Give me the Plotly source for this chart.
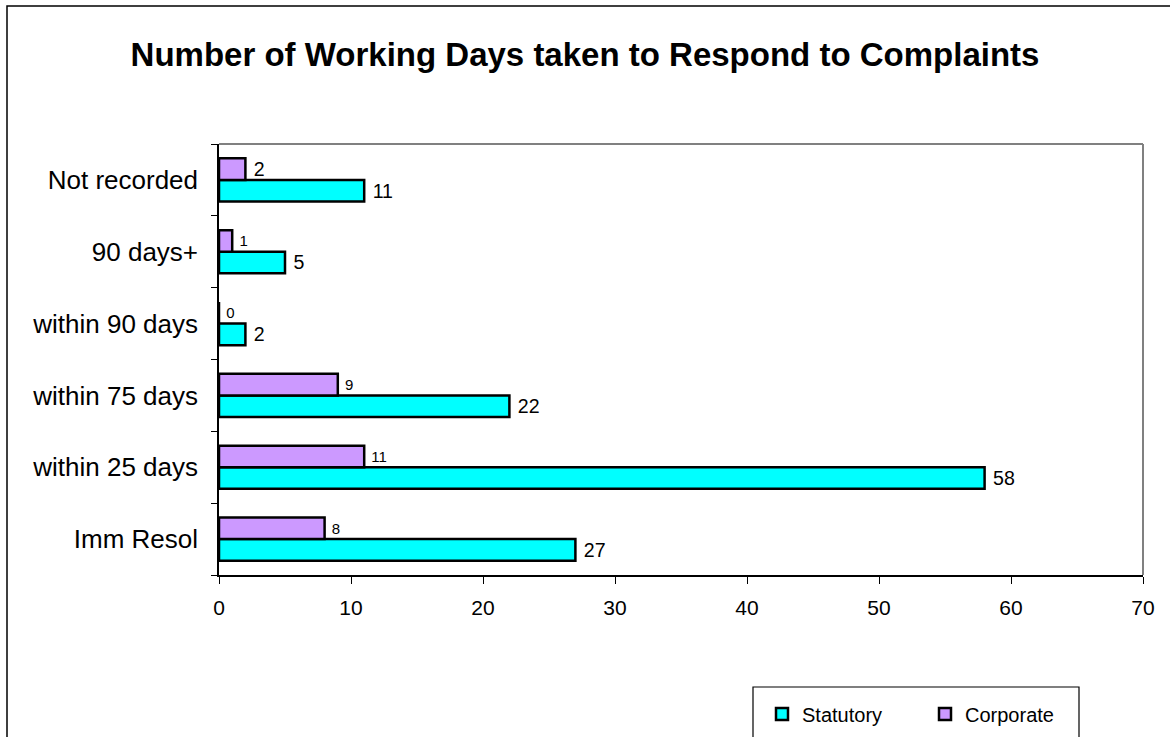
import plotly.graph_objects as go

# Response-time bands, listed bottom to top as they appear on the axis
categories = ["Imm Resol", "within 25 days", "within 75 days",
              "within 90 days", "90 days+", "Not recorded"]
statutory = [27, 58, 22, 2, 5, 11]
corporate = [8, 11, 9, 0, 1, 2]

x_ticks = [0, 10, 20, 30, 40, 50, 60, 70]

# Plot area geometry in pixels
W, H = 1170, 737
L, R, T, B = 219, 27, 144, 162
pw, ph = W - L - R, H - T - B


def px_x(v):
    return (v - L) / pw


def px_y(v):
    return (H - B - v) / ph


FONT = "Liberation Sans, Arial"
PAD = "\u00a0"

fig = go.Figure()

fig.add_trace(go.Bar(
    name="Statutory",
    y=categories,
    x=statutory,
    orientation="h",
    marker=dict(color="#00FFFF", line=dict(color="black", width=2.5)),
    text=[PAD + str(v) for v in statutory],
    textposition="outside",
    textfont=dict(family=FONT, size=20, color="black"),
    cliponaxis=False,
))

fig.add_trace(go.Bar(
    name="Corporate",
    y=categories,
    x=corporate,
    orientation="h",
    marker=dict(color="#CC99FF", line=dict(color="black", width=2.5)),
    text=[PAD + str(v) for v in corporate],
    textposition="outside",
    textfont=dict(family=FONT, size=[15, 15, 15, 15, 15, 20], color="black"),
    cliponaxis=False,
))

shapes = [
    # outer chart frame
    dict(type="rect", xref="paper", yref="paper",
         x0=px_x(7), x1=px_x(1180), y0=px_y(750), y1=px_y(6),
         line=dict(color="black", width=1.5), layer="below"),
    # plot area top and right edges
    dict(type="line", xref="paper", yref="paper",
         x0=0, x1=1, y0=1, y1=1, line=dict(color="#808080", width=2)),
    dict(type="line", xref="paper", yref="paper",
         x0=1, x1=1, y0=0, y1=1, line=dict(color="#808080", width=2)),
    # legend frame
    dict(type="rect", xref="paper", yref="paper",
         x0=px_x(753), x1=px_x(1079), y0=px_y(760), y1=px_y(687),
         line=dict(color="black", width=1.2), fillcolor="white", layer="below"),
]

fig.update_layout(
    width=W, height=H,
    margin=dict(l=L, r=R, t=T, b=B, autoexpand=False),
    paper_bgcolor="white",
    plot_bgcolor="white",
    barmode="group",
    bargap=0.4,
    bargroupgap=0.0,
    title=dict(
        text="<b>Number of Working Days taken to Respond to Complaints</b>",
        x=0.5, xanchor="center", xref="container",
        y=1 - 54 / H, yanchor="middle", yref="container",
        font=dict(family=FONT, size=33, color="black"),
    ),
    xaxis=dict(
        range=[0, 70],
        tickvals=x_ticks,
        ticktext=[str(v) for v in x_ticks],
        showgrid=False, zeroline=False,
        showline=True, linecolor="black", linewidth=1.5,
        ticks="outside", ticklen=7, tickcolor="black", tickwidth=1.2,
        ticklabelstandoff=6,
        tickfont=dict(family=FONT, size=21, color="black"),
    ),
    yaxis=dict(
        categoryorder="array", categoryarray=categories,
        showgrid=False, zeroline=False,
        showline=True, linecolor="black", linewidth=1.5,
        ticks="outside", ticklen=6, tickcolor="black", tickwidth=1.2,
        tickson="boundaries",
        ticklabelstandoff=14,
        tickfont=dict(family=FONT, size=26, color="black"),
    ),
    legend=dict(
        orientation="h",
        x=px_x(762), xanchor="left",
        y=px_y(714), yanchor="middle",
        entrywidth=118,
        itemwidth=30,
        bgcolor="rgba(0,0,0,0)",
        borderwidth=0,
        font=dict(family=FONT, size=20, color="black"),
        traceorder="normal",
    ),
    shapes=shapes,
    showlegend=True,
)

fig.write_html("out.html")
